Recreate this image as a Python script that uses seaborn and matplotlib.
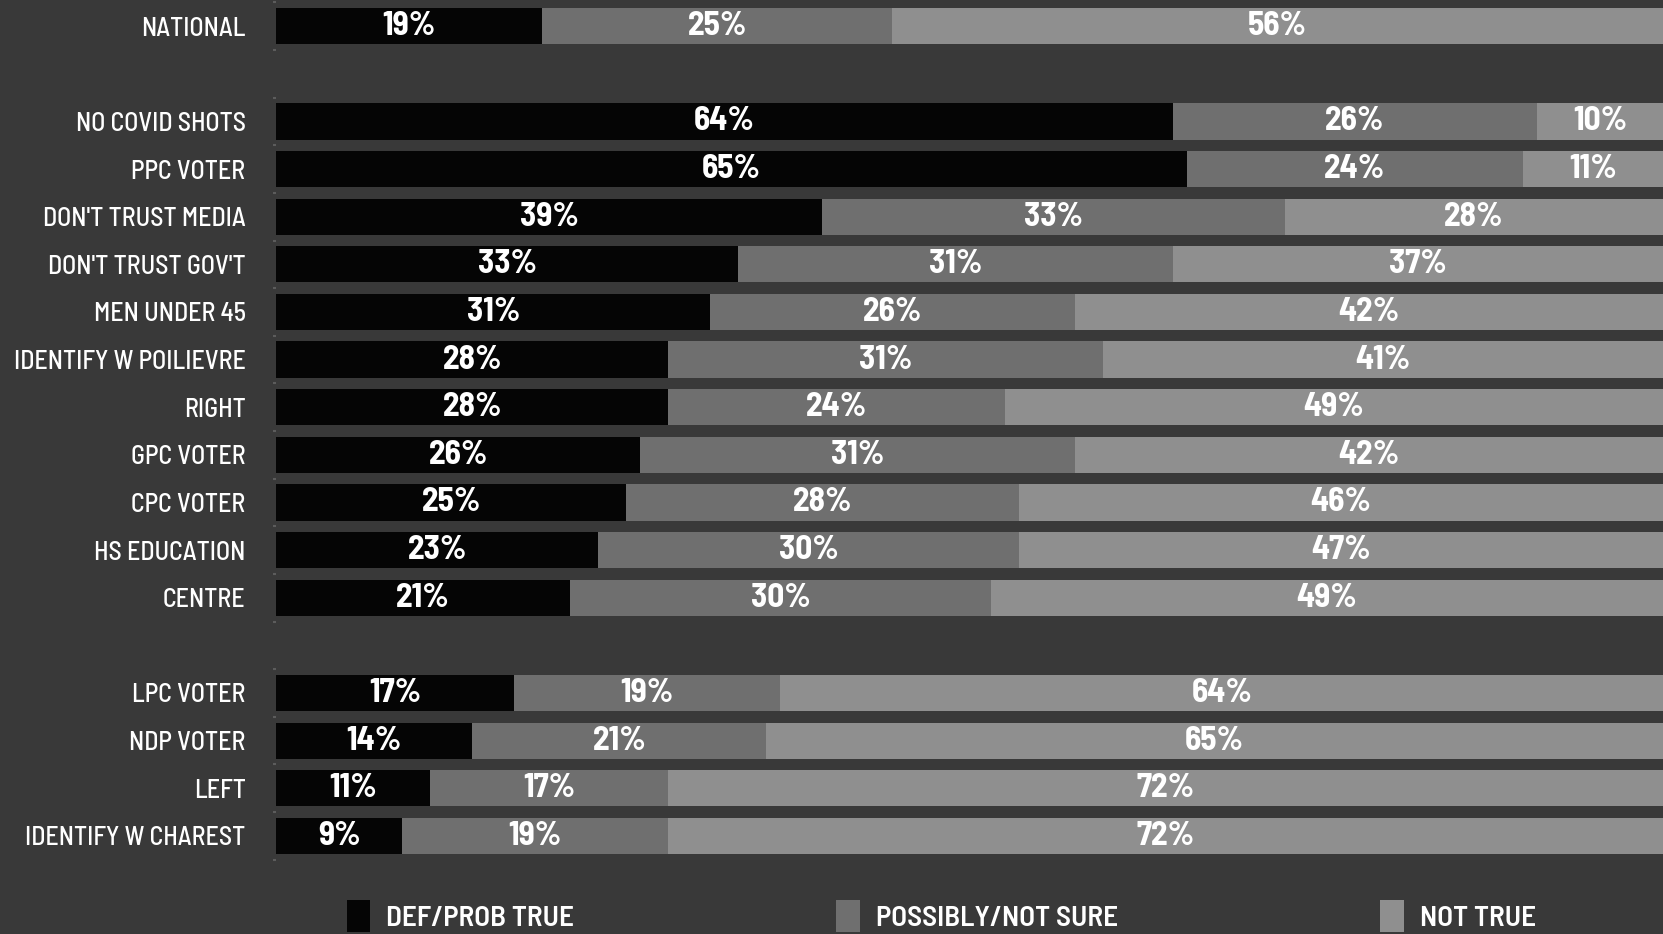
import numpy as np
import pandas as pd
import matplotlib
matplotlib.use("Agg")
import matplotlib.pyplot as plt
import seaborn as sns
from matplotlib.patches import Patch

groups = ["NATIONAL", "NO COVID SHOTS", "PPC VOTER", "DON'T TRUST MEDIA", "DON'T TRUST GOV'T",
          "MEN UNDER 45", "IDENTIFY W POILIEVRE", "RIGHT", "GPC VOTER", "CPC VOTER",
          "HS EDUCATION", "CENTRE", "LPC VOTER", "NDP VOTER", "LEFT", "IDENTIFY W CHAREST"]
# row slots, leaving blank rows between the three blocks
slots = [0, 2, 3, 4, 5, 6, 7, 8, 9, 10, 11, 12, 14, 15, 16, 17]
def_true = [19, 64, 65, 39, 33, 31, 28, 28, 26, 25, 23, 21, 17, 14, 11, 9]
possibly = [25, 26, 24, 33, 31, 26, 31, 24, 31, 28, 30, 30, 19, 21, 17, 19]
not_true = [56, 10, 11, 28, 37, 42, 41, 49, 42, 46, 47, 49, 64, 65, 72, 72]
series = ["DEF/PROB TRUE", "POSSIBLY/NOT SURE", "NOT TRUE"]
colors = ["#050505", "#6f6f6f", "#8f8f8f"]
bg = "#393939"

df = pd.DataFrame({"group": groups, "slot": slots, "def": def_true,
                   "poss": possibly, "not": not_true})
df["left_poss"] = df["def"]
df["left_not"] = df["def"] + df["poss"]

plt.rcParams["font.family"] = ["Barlow Semi Condensed", "Roboto", "DejaVu Sans"]
fig = plt.figure(figsize=(16.63, 9.34), dpi=100, facecolor=bg)
ax = fig.add_axes([0.166, 0.077, 0.834, 0.923])
ax.set_facecolor(bg)

sns.barplot(data=df, y="slot", x="def", orient="y", native_scale=True, color=colors[0],
            width=0.76, saturation=1, linewidth=0, ax=ax)
sns.barplot(data=df, y="slot", x="poss", orient="y", native_scale=True, color=colors[1],
            width=0.76, saturation=1, linewidth=0, left=df["left_poss"].values, ax=ax)
sns.barplot(data=df, y="slot", x="not", orient="y", native_scale=True, color=colors[2],
            width=0.76, saturation=1, linewidth=0, left=df["left_not"].values, ax=ax)

for cont in ax.containers:
    ax.bar_label(cont, labels=[f"{int(round(r.get_width()))}%" for r in cont],
                 label_type="center", color="white", fontsize=24, fontweight=700)

ax.set_xlim(0, 99)
ax.set_ylim(17.55, -0.55)
ax.set_yticks(slots)
ax.set_yticklabels(groups, fontweight=500)
ax.set_yticks(np.arange(-0.5, 18, 1), minor=True)
ax.tick_params(axis="y", which="major", length=0, pad=22, labelsize=18.7, labelcolor="white")
ax.tick_params(axis="y", which="minor", length=2, width=1.5, color="#5c5c5c")
ax.tick_params(axis="x", bottom=False, labelbottom=False)
ax.set_xlabel("")
ax.set_ylabel("")
for s in ax.spines.values():
    s.set_visible(False)

handles = [Patch(facecolor=c, edgecolor="none") for c in colors]
leg = fig.legend(handles, series, loc="center", bbox_to_anchor=(0.566, 0.019), ncol=3,
                 frameon=False, fontsize=21, labelcolor="white", handlelength=0.8,
                 handleheight=1.3, handletextpad=0.55, columnspacing=9.0)
for t in leg.get_texts():
    t.set_fontweight(600)

fig.savefig("out.png", dpi=100, facecolor=bg)
